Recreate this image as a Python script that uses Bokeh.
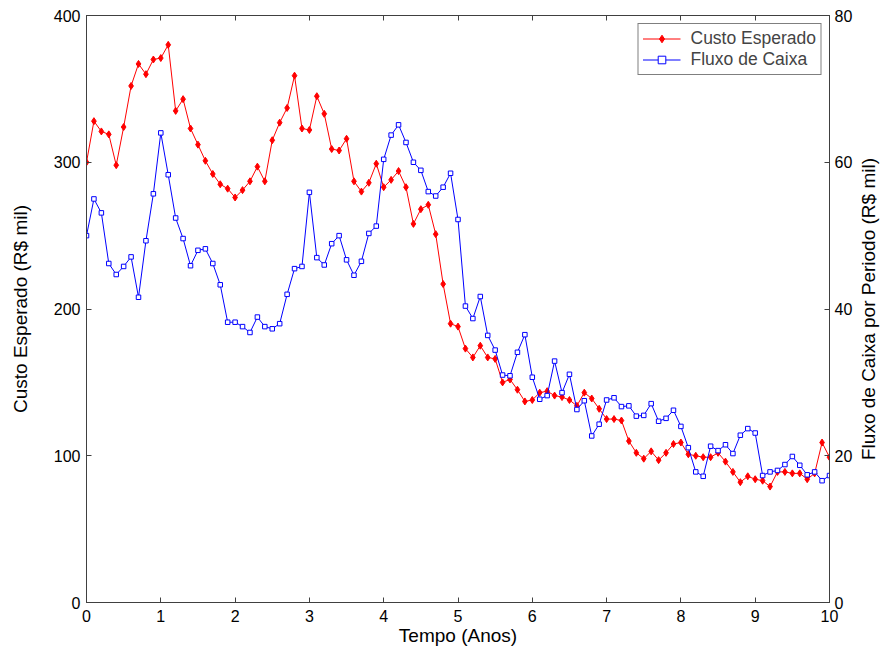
import math
import numpy as np
from bokeh.plotting import figure
from bokeh.layouts import row
from bokeh.models import Range1d, LinearAxis, FixedTicker, Legend, LegendItem, Label
from bokeh.embed import file_html
from bokeh.resources import INLINE

# time grid (years)
tempo = [round(i * 0.1, 1) for i in range(101)]

custo_esperado = [300, 328, 321, 319, 298, 324, 352, 367, 360, 370, 371, 380, 335, 343, 323, 312, 301, 292, 285, 282, 276,
                  281, 287, 297, 287, 315, 327, 337, 359, 323, 322, 345, 333, 309, 308, 316, 287, 280, 286, 299, 283,
                  288, 294, 283, 258, 268, 271, 251, 217, 190, 188, 173, 167, 175, 167, 166, 150, 152, 145, 137, 138,
                  143, 144, 141, 140, 138, 134, 143, 139, 132, 125, 125, 124, 110, 102, 98, 103, 97, 102, 108, 109,
                  101, 100, 99, 99, 102, 96, 89, 82, 86, 84, 83, 79, 89, 89, 88, 88, 84, 88, 109, 99]

fluxo_caixa = [50, 55, 53.1, 46.2, 44.7, 45.8, 47.1, 41.6, 49.3, 55.7, 64.0, 58.3, 52.4, 49.6, 45.9, 48.0, 48.2, 46.2, 43.3, 38.2, 38.2,
               37.6, 36.8, 38.9, 37.6, 37.3, 38.0, 42.0, 45.5, 45.8, 55.9, 47.0, 46.0, 48.9, 50.0, 46.7, 44.6, 46.5, 50.3, 51.3, 60.4,
               63.7, 65.1, 62.7, 60.0, 58.9, 56.0, 55.4, 56.6, 58.5, 52.2, 40.4, 38.7, 41.7, 36.4, 34.4, 31.0, 30.9, 34.1, 36.5, 30.7,
               27.7, 28.2, 32.9, 28.6, 31.1, 26.3, 27.5, 22.7, 24.3, 27.6, 27.9, 26.7, 26.8, 25.4, 25.5, 27.1, 24.7, 25.1, 26.2, 24.0,
               21.1, 17.8, 17.2, 21.3, 20.7, 21.5, 20.3, 22.8, 23.7, 23.1, 17.3, 17.8, 18.0, 18.8, 19.9, 18.7, 17.4, 17.8, 16.6, 17.3]

x_ticks = list(range(0, 11))
left_ticks = [0, 100, 200, 300, 400]
right_ticks = [0, 20, 40, 60, 80]

FONT = "Liberation Sans"
AXC = "#404040"

p = figure(width=855, height=652, output_backend="svg", toolbar_location=None,
           x_range=Range1d(0, 10), y_range=Range1d(0, 400),
           min_border_left=86, min_border_top=15, min_border_right=24, min_border_bottom=50)
p.extra_y_ranges = {"right": Range1d(0, 80)}
p.xgrid.visible = False
p.ygrid.visible = False
p.outline_line_color = AXC
p.background_fill_color = "white"
p.border_fill_color = "white"

def style_axis(ax, ticks):
    ax.ticker = FixedTicker(ticks=ticks)
    ax.major_tick_in = 5
    ax.major_tick_out = 0
    ax.minor_tick_line_color = None
    ax.axis_line_color = AXC
    ax.major_tick_line_color = AXC
    ax.major_label_text_font = FONT
    ax.major_label_text_font_size = "16px"
    ax.major_label_text_color = "black"
    ax.axis_label_text_font = FONT
    ax.axis_label_text_font_size = "19px"
    ax.axis_label_text_font_style = "normal"
    ax.axis_label_text_color = "black"

style_axis(p.xaxis[0], x_ticks)
p.xaxis[0].axis_label = "Tempo (Anos)"
p.xaxis[0].major_label_standoff = 7
p.xaxis[0].axis_label_standoff = 0

style_axis(p.yaxis[0], left_ticks)
p.yaxis[0].axis_label = "Custo Esperado (R$ mil)"
p.yaxis[0].major_label_standoff = 6
p.yaxis[0].axis_label_standoff = 20

right_axis = LinearAxis(y_range_name="right")
style_axis(right_axis, right_ticks)
right_axis.major_label_standoff = 5
p.add_layout(right_axis, "right")

top_axis = LinearAxis()
style_axis(top_axis, x_ticks)
top_axis.major_label_text_font_size = "1px"
top_axis.major_label_text_color = None
top_axis.major_label_standoff = 0
p.add_layout(top_axis, "above")

r_line = p.line(tempo, custo_esperado, line_color="#ff0000", line_width=1)
r_mark = p.scatter(tempo, custo_esperado, marker="diamond", size=7,
                   fill_color="#ff0000", line_color="#ff0000")

b_line = p.line(tempo, fluxo_caixa, line_color="#0000ff", line_width=1, y_range_name="right")
b_mark = p.scatter(tempo, fluxo_caixa, marker="square", size=4.5, fill_color="white",
                   line_color="#0000ff", y_range_name="right")

legend = Legend(items=[LegendItem(label="Custo Esperado", renderers=[r_line, r_mark]),
                       LegendItem(label="Fluxo de Caixa", renderers=[b_line, b_mark])],
                location="top_right", margin=8, padding=4, spacing=0,
                glyph_width=38, glyph_height=19, label_height=19, label_standoff=10,
                label_text_font=FONT, label_text_font_size="17.5px",
                border_line_color="black", border_line_width=1,
                background_fill_color="white", background_fill_alpha=1)
p.add_layout(legend)

# narrow side panel carrying the right axis title (reads bottom-to-top)
side = figure(width=26, height=652, output_backend="svg", toolbar_location=None,
              x_range=Range1d(0, 1), y_range=Range1d(0, 1),
              x_axis_type=None, y_axis_type=None,
              min_border_left=0, min_border_right=0, min_border_top=15, min_border_bottom=50)
side.xgrid.visible = False
side.ygrid.visible = False
side.outline_line_color = None
side.background_fill_color = "white"
side.border_fill_color = "white"
side.add_layout(Label(x=0.5, y=0.5, text="Fluxo de Caixa por Periodo (R$ mil)", angle=math.pi / 2,
                      text_align="center", text_baseline="middle",
                      text_font=FONT, text_font_size="19px", text_color="black"))

layout = row(p, side, spacing=0)
open("out.html", "w").write(file_html(layout, INLINE))
